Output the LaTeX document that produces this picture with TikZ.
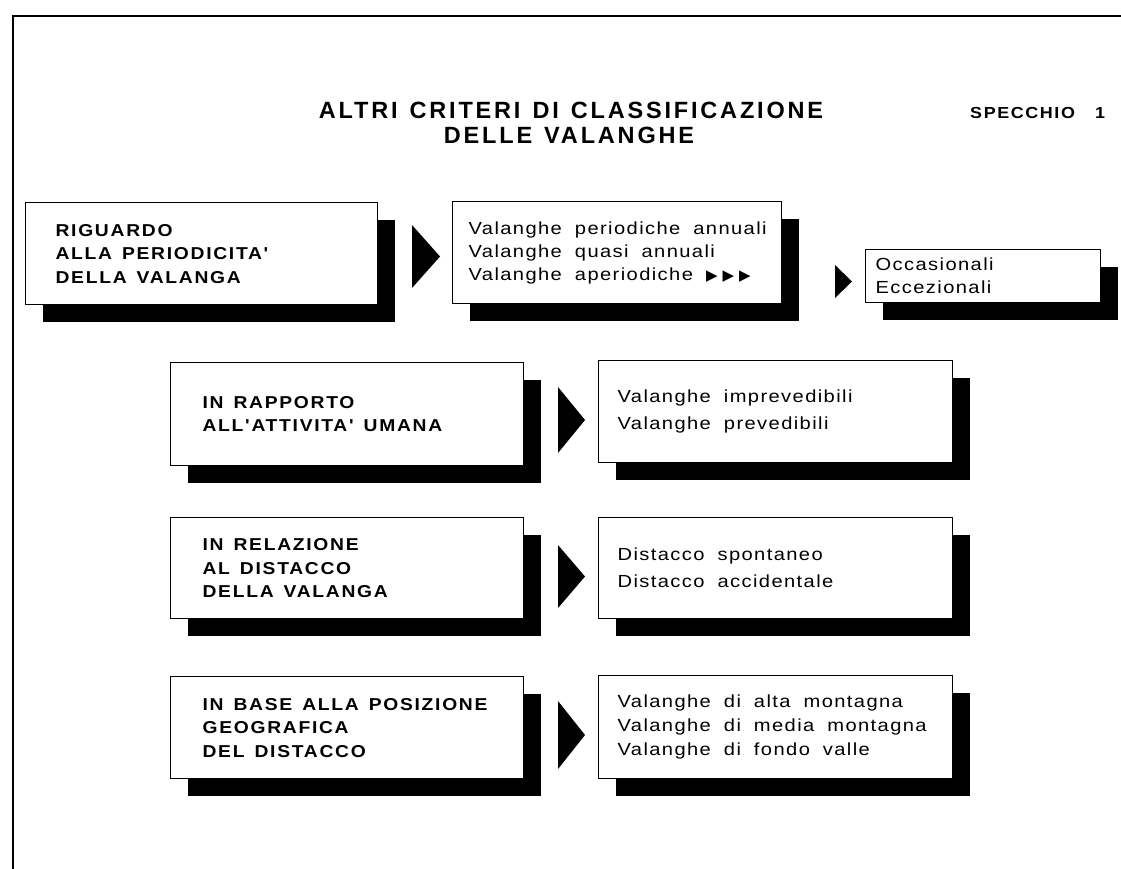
\documentclass[tikz,border=0pt]{standalone}
\usepackage{fontspec}
\setmainfont{Liberation Sans}
\newfontfamily\titlefont{Liberation Sans}[LetterSpace=12]
\newfontfamily\capsfont{Liberation Sans}[LetterSpace=10,FakeStretch=1.12]
\newfontfamily\lowfont{Liberation Sans}[LetterSpace=8,FakeStretch=1.15]
\newfontfamily\symfont{DejaVu Sans}
\newcommand\myws{\hspace{12pt}}
\usetikzlibrary{shadows}
\begin{document}
\begin{tikzpicture}[x=1pt,y=-1pt,
  card/.style={draw, line width=1.2pt, fill=white, anchor=north west, inner ysep=0pt,
    align=flush left, general shadow={fill=black, shadow xshift=17pt, shadow yshift=-17pt}},
  capsbox/.style={card, font={\capsfont\bfseries\fontsize{17.2}{23.5}\selectfont\spaceskip=10pt\relax}},
  lowbox/.style={card, font={\lowfont\fontsize{17.5}{24}\selectfont\spaceskip=13pt\relax}},
  lowboxwide/.style={card, font={\lowfont\fontsize{17.5}{27}\selectfont\spaceskip=13pt\relax}},
  titletext/.style={anchor=base, inner sep=0pt, font={\titlefont\bfseries\fontsize{23.5}{26}\selectfont}},
  pointer/.style={fill=black}
]
\useasboundingbox (0,0) rectangle (1121,868);
% frame
\draw[line width=2pt] (13,870) -- (13,15.5) -- (1123,15.5);

% titles
\node[titletext] (t1) at (571,118) {ALTRI\myws CRITERI\myws DI\myws CLASSIFICAZIONE};
\node[titletext] (t2) at (569,143) {DELLE\myws VALANGHE};
\node[anchor=base west, inner sep=0pt, font={\capsfont\bfseries\fontsize{16}{20}\selectfont}] (sp) at (970,118) {SPECCHIO\hspace{20pt}1};

% row 1
\node[capsbox, minimum width=352pt, minimum height=102pt, text width=292pt, inner xsep=30pt] (b1) at (25,202)
  {RIGUARDO\\ALLA PERIODICITA'\\DELLA VALANGA};
\node[lowbox, font={\lowfont\fontsize{17.5}{23}\selectfont\spaceskip=13pt\relax}, minimum width=329pt, minimum height=102pt, text width=313pt, inner xsep=8pt] (b2) at (452,201)
  {\hspace{8pt}Valanghe periodiche annuali\\\hspace{8pt}Valanghe quasi annuali\\\hspace{8pt}Valanghe aperiodiche {\symfont\fontsize{15}{15}\selectfont ▶\hspace{5pt}▶\hspace{5pt}▶}};
\node[lowbox, font={\lowfont\fontsize{17.5}{23}\selectfont}, minimum width=235pt, minimum height=53pt, text width=215pt, inner xsep=10pt] (b3) at (865,249)
  {Occasionali\\Eccezionali};
\fill[pointer] (412,225) -- (440,256.5) -- (412,288) -- cycle;
\fill[pointer] (835,265) -- (852,281.5) -- (835,298) -- cycle;

% row 2
\node[capsbox, minimum width=353pt, minimum height=103pt, text width=289pt, inner xsep=32pt] (b4) at (170,362)
  {IN RAPPORTO\\ALL'ATTIVITA' UMANA};
\node[lowboxwide, minimum width=354pt, minimum height=102pt, text width=316pt, inner xsep=19pt] (b5) at (598,360)
  {Valanghe imprevedibili\\Valanghe prevedibili};
\fill[pointer] (558,387) -- (585,420) -- (558,453) -- cycle;

% row 3
\node[capsbox, minimum width=353pt, minimum height=101pt, text width=289pt, inner xsep=32pt] (b6) at (170,517)
  {IN RELAZIONE\\AL DISTACCO\\DELLA VALANGA};
\node[lowboxwide, minimum width=354pt, minimum height=101pt, text width=316pt, inner xsep=19pt] (b7) at (598,517)
  {Distacco spontaneo\\Distacco accidentale};
\fill[pointer] (558,545) -- (585,576.5) -- (558,608) -- cycle;

% row 4
\node[capsbox, minimum width=353pt, minimum height=102pt, text width=289pt, inner xsep=32pt] (b8) at (170,676)
  {IN BASE ALLA POSIZIONE\\GEOGRAFICA\\DEL DISTACCO};
\node[lowbox, minimum width=354pt, minimum height=103pt, text width=316pt, inner xsep=19pt] (b9) at (598,675)
  {Valanghe di alta montagna\\Valanghe di media montagna\\Valanghe di fondo valle};
\fill[pointer] (558,701) -- (585,735) -- (558,769) -- cycle;
\end{tikzpicture}
\end{document}
